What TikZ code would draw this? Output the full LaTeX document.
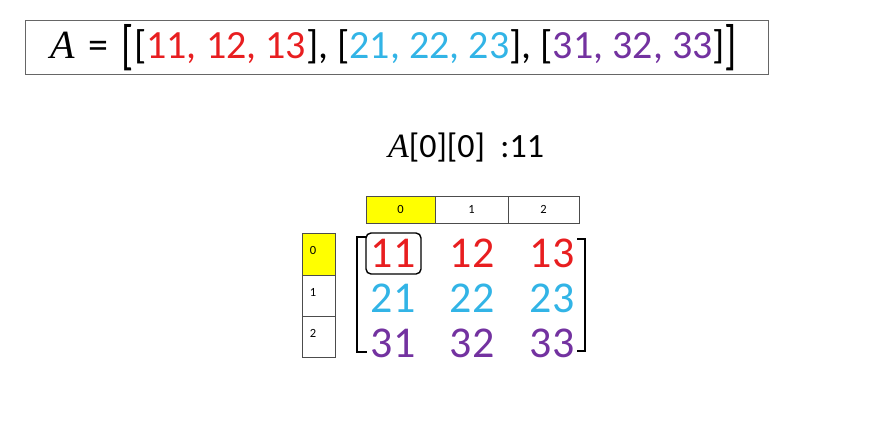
\documentclass[tikz,border=0pt]{standalone}
\usepackage{fontspec}
\usepackage{graphicx}
\setmainfont{Carlito}
\newfontfamily\serifit{Liberation Serif}
\definecolor{cred}{RGB}{232,30,32}
\definecolor{ccyan}{RGB}{50,180,230}
\definecolor{cpurp}{RGB}{115,50,160}
\definecolor{cyel}{RGB}{255,255,0}
\tikzset{
  hdr/.style={draw=black!70, line width=0.6pt, minimum width=#1, inner sep=0pt},
  small/.style={font=\fontsize{12.5}{12.5}\selectfont},
  ent/.style={font=\fontsize{44}{44}\selectfont, inner sep=0pt, anchor=center},
  brk/.style={line width=2.4pt, line cap=rect}
}
\newcommand{\bigbr}[1]{\raisebox{-0.14em}{\scalebox{1}[1.35]{#1}}}
\begin{document}
\begin{tikzpicture}[x=1pt,y=-1pt]
\useasboundingbox (0,0) rectangle (874,442);
% top box
\node[draw=black!60, line width=1pt, minimum width=743pt, minimum height=54pt, inner sep=0pt] (topbox) at (396.5,47) {};
\node[font=\fontsize{40}{40}\selectfont, inner sep=0pt] (toptext) at (394,48)
 {{\serifit\itshape A}\,\,=\,\,\bigbr{[}[\textcolor{cred}{11, 12, 13}], [\textcolor{ccyan}{21, 22, 23}], [\textcolor{cpurp}{31, 32, 33}]\bigbr{]}};
% access label
\node[font=\fontsize{34}{34}\selectfont, inner sep=0pt] (acc) at (466,148) {{\serifit\itshape A}[0][0]\ \ :11};
% column headers
\node[hdr=69pt, minimum height=27pt, fill=cyel] (c0) at (400.5,209.5) {};
\node[hdr=73pt, minimum height=27pt] (c1) at (471.5,209.5) {};
\node[hdr=71pt, minimum height=27pt] (c2) at (543.5,209.5) {};
\node[small] at (c0) {0};
\node[small] at (c1) {1};
\node[small] at (c2) {2};
% row headers
\node[hdr=33pt, minimum height=42pt, fill=cyel] (r0) at (318.5,254) {};
\node[hdr=33pt, minimum height=41pt] (r1) at (318.5,295.5) {};
\node[hdr=33pt, minimum height=41pt] (r2) at (318.5,336.5) {};
\node[small] at (313,250) {0};
\node[small] at (313,292) {1};
\node[small] at (313,333) {2};
% matrix entries
\node[ent, text=cred] (m11) at (393,253) {11};
\node[ent, text=cred] (m12) at (472,253) {12};
\node[ent, text=cred] (m13) at (552,253) {13};
\node[ent, text=ccyan] (m21) at (393,298) {21};
\node[ent, text=ccyan] (m22) at (472,298) {22};
\node[ent, text=ccyan] (m23) at (552,298) {23};
\node[ent, text=cpurp] (m31) at (393,343) {31};
\node[ent, text=cpurp] (m32) at (472,343) {32};
\node[ent, text=cpurp] (m33) at (552,343) {33};
% highlight
\node[draw, line width=1.4pt, rounded corners=5pt, minimum width=55pt, minimum height=41pt] (hl) at (393.5,253.5) {};
% brackets
\draw[brk] (366,237) -- (357,237) -- (357,352) -- (366,352);
\draw[brk] (578,239) -- (585,239) -- (585,351) -- (578,351);
\end{tikzpicture}
\end{document}
